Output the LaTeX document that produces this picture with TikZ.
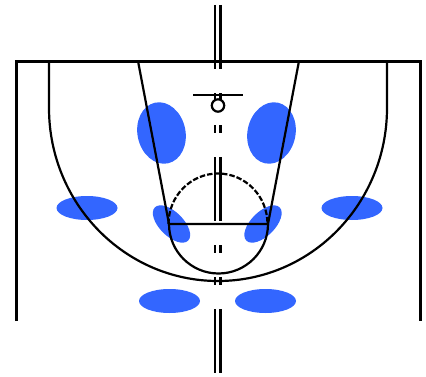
\documentclass[tikz,border=0pt]{standalone}
\definecolor{zone}{HTML}{3366FF}
\tikzset{
  zonefill/.style={fill=zone,draw=none},
  court/.style={line width=3pt,line cap=butt,line join=miter},
  thin court/.style={line width=2.2pt},
  center mark/.style={line width=2.4pt},
}
\begin{document}
\begin{tikzpicture}[x=1pt,y=1pt]
\useasboundingbox (0,0) rectangle (426,376);
% zones
\fill[zonefill,rotate around={12:(161.5,243)}] (161.5,243) ellipse [x radius=24,y radius=31];
\fill[zonefill,rotate around={-12:(271.5,243)}] (271.5,243) ellipse [x radius=24,y radius=31];
\fill[zonefill] (87,168) ellipse [x radius=30.5,y radius=12];
\fill[zonefill] (352,168) ellipse [x radius=30.5,y radius=12];
\fill[zonefill] (169.5,75) ellipse [x radius=30.5,y radius=12];
\fill[zonefill] (265.5,75) ellipse [x radius=30.5,y radius=12];
\fill[zonefill,rotate around={-45:(171.5,152)}] (171.5,152) ellipse [x radius=23.5,y radius=12];
\fill[zonefill,rotate around={45:(263,152)}] (263,152) ellipse [x radius=23.5,y radius=12];
% court
\draw[court] (16,55) -- (16,315) -- (420,315) -- (420,55);
\draw[thin court] (49,315) -- (49,268) arc [start angle=180,end angle=360,x radius=169,y radius=173] -- (387,315);
\draw[thin court] (138,315) -- (169,152) -- (268,152) -- (299,315);
\draw[thin court] (169,152) arc [start angle=180,end angle=360,radius=49.5];
\draw[thin court,dash pattern=on 5.5pt off 2pt] (168.5,152) arc [start angle=180,end angle=0,x radius=49.5,y radius=50.5];
% centre marks
\foreach \xc in {215,220.5}{
  \draw[center mark] (\xc,371) -- (\xc,307);
  \draw[center mark] (\xc,283) -- (\xc,276);
  \draw[center mark] (\xc,251) -- (\xc,243);
  \draw[center mark] (\xc,219) -- (\xc,155);
  \draw[center mark] (\xc,131) -- (\xc,123);
  \draw[center mark] (\xc,99) -- (\xc,91);
  \draw[center mark] (\xc,67) -- (\xc,3);
}
% basket
\draw[thin court] (193,281) -- (243,281);
\draw[thin court] (218,270.5) circle [radius=6.2];
\end{tikzpicture}
\end{document}
